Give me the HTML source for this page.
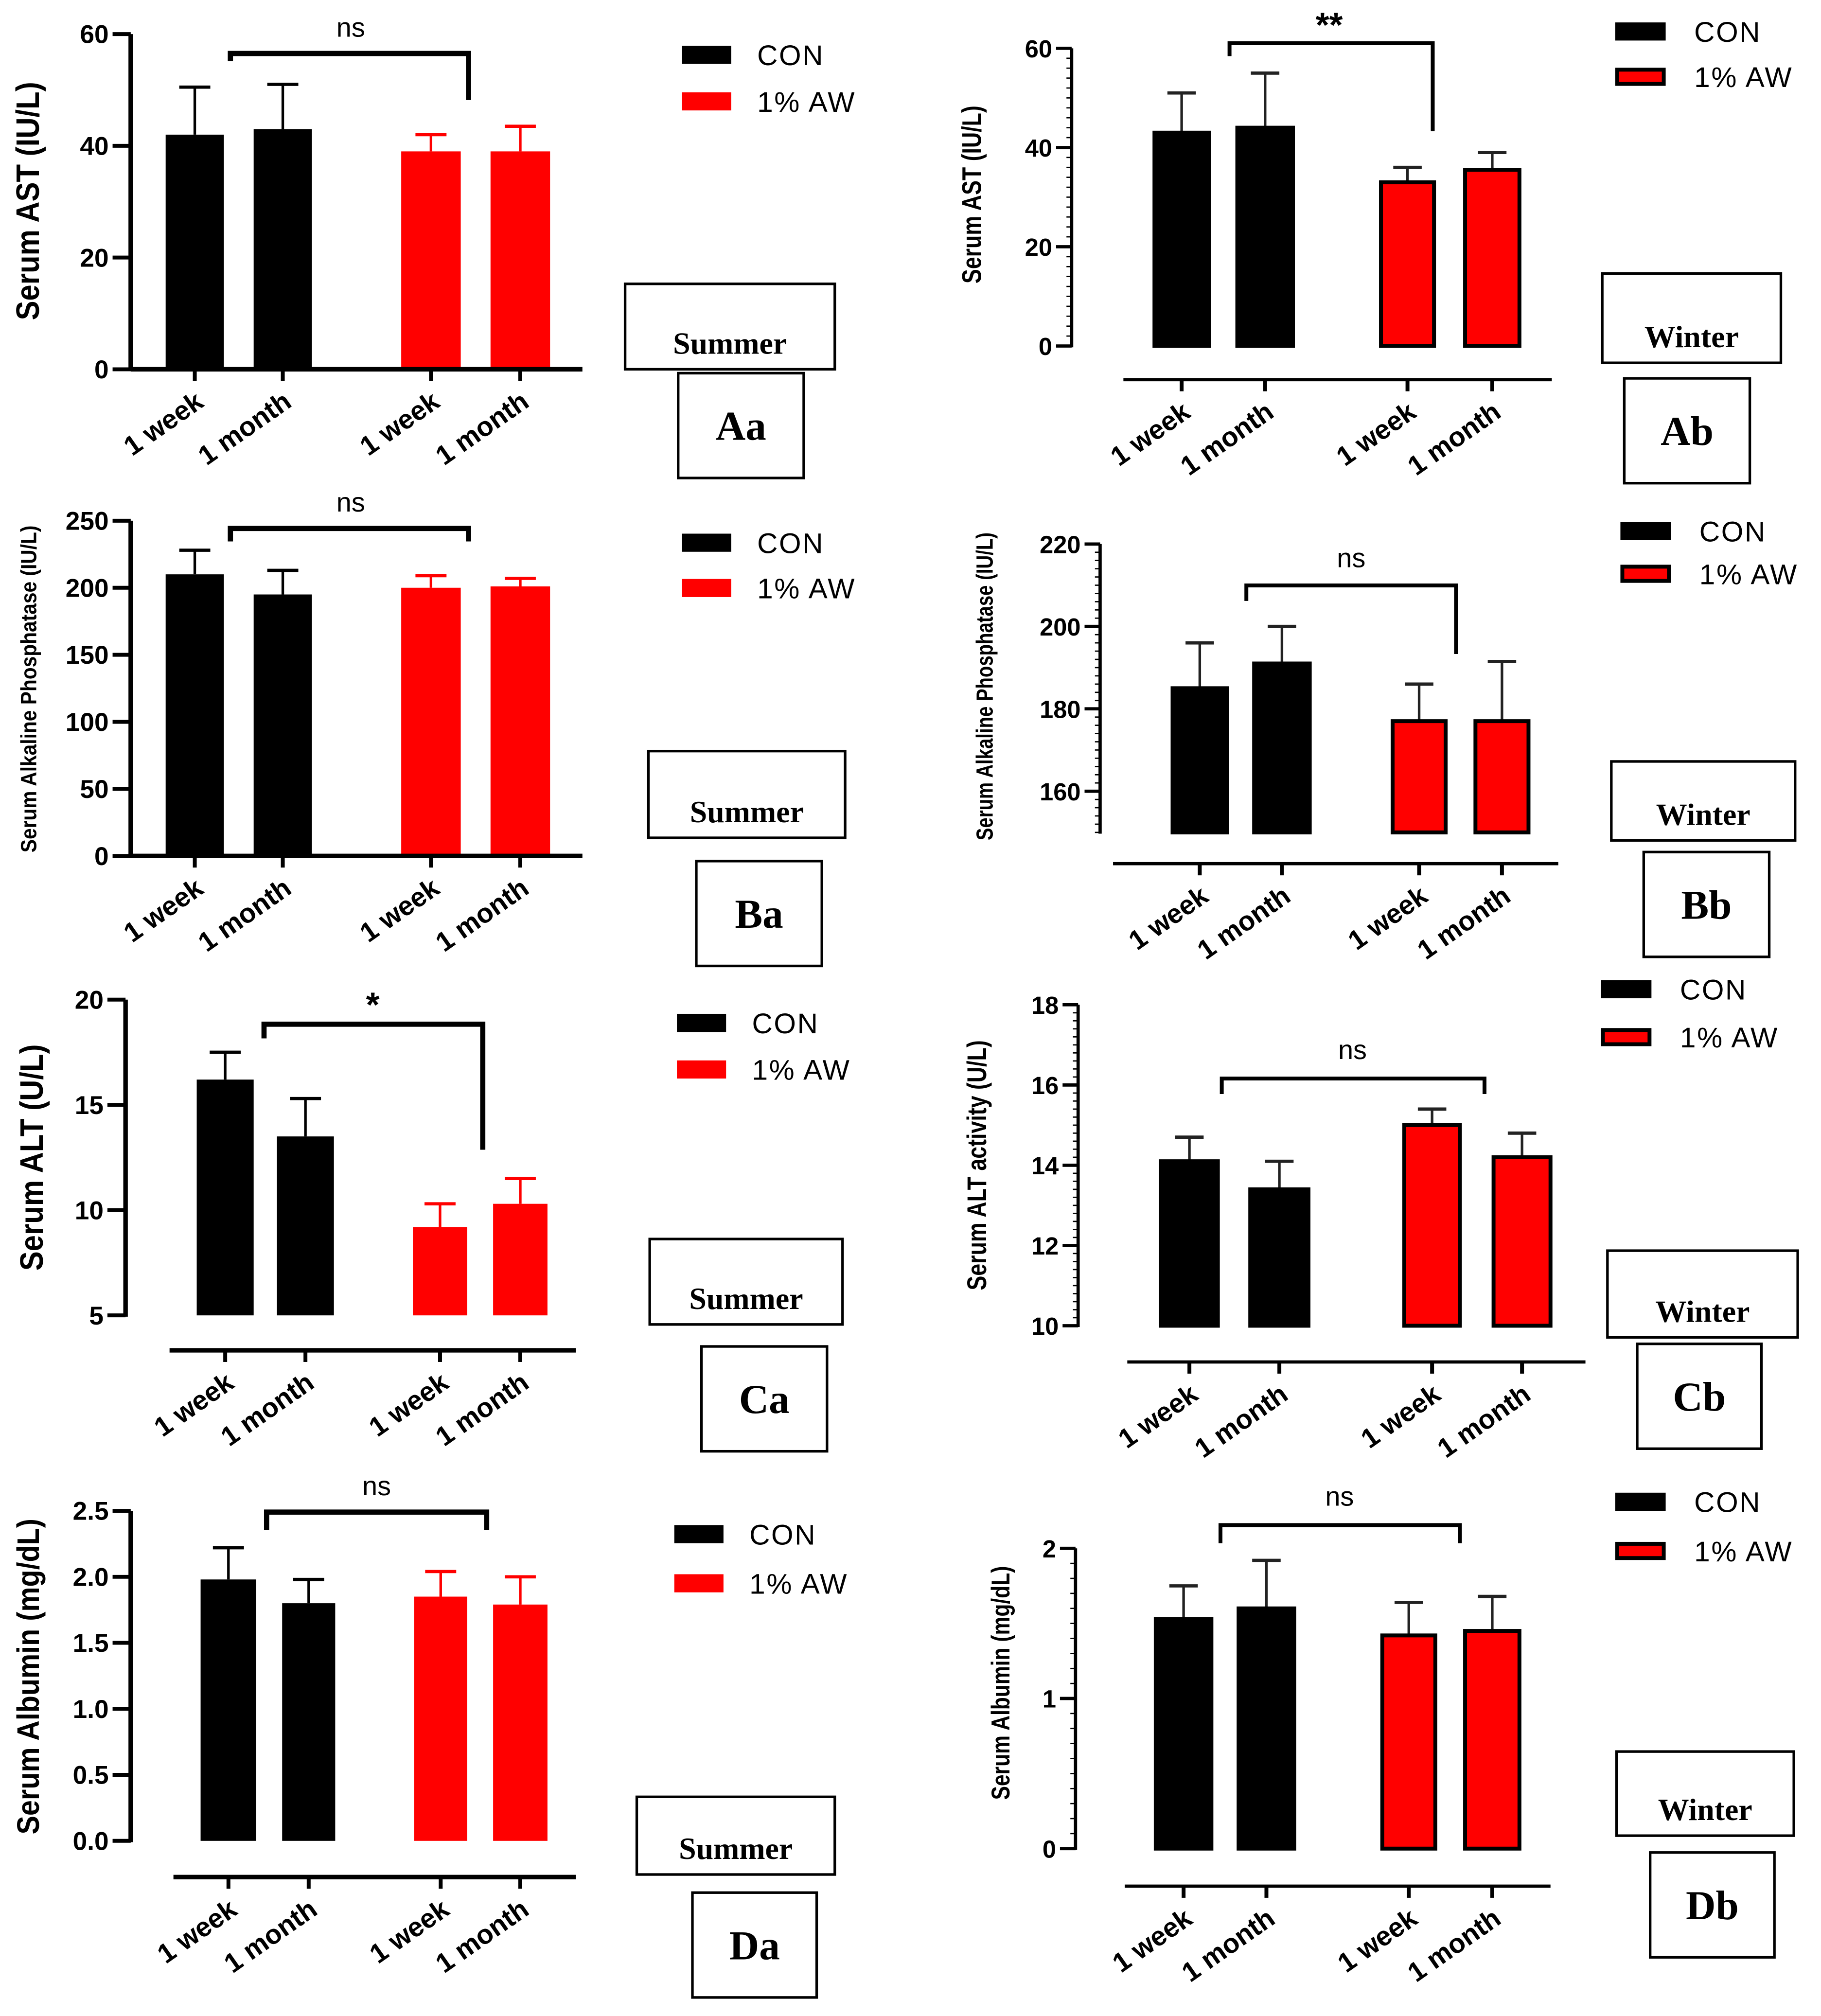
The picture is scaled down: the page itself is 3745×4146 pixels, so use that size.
<!DOCTYPE html>
<html><head><meta charset="utf-8"><style>
html,body{margin:0;padding:0;background:#fff}
svg{display:block}
</style></head><body>
<svg id="fig" width="3745" height="4146" viewBox="0 0 1407 1557" xmlns="http://www.w3.org/2000/svg" font-family="Liberation Sans, Arial, sans-serif"></svg>
<script>
const categories=['1 week','1 month','1 week','1 month'];
const groups=['CON','CON','1% AW','1% AW'];
const aaValues=[42,43,39,39];const aaErrors=[50.5,51,42,43.5];
const abValues=[43,44,33,35.5];const abErrors=[51,55,36,39];
const baValues=[210,195,200,201];const baErrors=[228,213,209,207];
const bbValues=[185,191,177,177];const bbErrors=[196,200,186,191.5];
const caValues=[16.2,13.5,9.2,10.3];const caErrors=[17.5,15.3,10.3,11.5];
const cbValues=[14.1,13.4,15,14.2];const cbErrors=[14.7,14.1,15.4,14.8];
const daValues=[1.98,1.80,1.85,1.79];const daErrors=[2.22,1.98,2.04,2.0];
const dbValues=[1.53,1.6,1.42,1.45];const dbErrors=[1.75,1.92,1.64,1.68];
const aaTicks=[0,20,40,60];const abTicks=[0,20,40,60];
const baTicks=[0,50,100,150,200,250];const bbTicks=[160,180,200,220];
const caTicks=[5,10,15,20];const cbTicks=[10,12,14,16,18];
const daTicks=['0.0','0.5','1.0','1.5','2.0','2.5'];const dbTicks=[0,1,2];

const NS='http://www.w3.org/2000/svg';
const svg=document.getElementById('fig');
function el(tag,attrs,parent,txt){const e=document.createElementNS(NS,tag);for(const k in attrs)e.setAttribute(k,attrs[k]);if(txt!==undefined)e.textContent=txt;(parent||svg).appendChild(e);return e;}

const panels=[
{id:'aa',style:'L',join:true,values:aaValues,errors:aaErrors,ticks:aaTicks,ax:101,y0v:0,y1v:60,py0:285,py1:26,bottomV:0,xAxisY:285,xAxisX:[101,450],bars:[[128,173],[196,241],[310,356],[379,425]],
 br:{x1:178,x2:362,y:41,l:47,r:77,label:'ns',lx:271,ly:28},leg:[[42],[78]],legX:527,season:'Summer',sb:[483,219,162,66],lb:[524,288,97,81],label:'Aa',ylab:'Serum AST (IU/L)',ylx:30,yly:155,ylfs:25},
{id:'ab',style:'R',values:abValues,errors:abErrors,ticks:abTicks,ax:828,y0v:0,y1v:60,py0:267,py1:37,bottomV:0,xAxisY:293,xAxisX:[868,1199],bars:[[892,934],[956,999],[1067,1108],[1132,1174]],
 br:{x1:950,x2:1107,y:33,l:43,r:101,label:'**',lx:1027,ly:28},leg:[[24],[59]],legX:1248,season:'Winter',sb:[1238,211,138,69],lb:[1255,292,97,81],label:'Ab',ylab:'Serum AST (IU/L)',ylx:758,yly:150,ylfs:21},
{id:'ba',style:'L',join:true,values:baValues,errors:baErrors,ticks:baTicks,ax:101,y0v:0,y1v:250,py0:661,py1:402,bottomV:0,xAxisY:661,xAxisX:[101,450],bars:[[128,173],[196,241],[310,356],[379,425]],
 br:{x1:178,x2:362,y:408,l:418,r:418,label:'ns',lx:271,ly:395},leg:[[419],[454]],legX:527,season:'Summer',sb:[501,580,152,67],lb:[538,665,97,81],label:'Ba',ylab:'Serum Alkaline Phosphatase (IU/L)',ylx:28,yly:532,ylfs:17},
{id:'bb',style:'R',values:bbValues,errors:bbErrors,ticks:bbTicks,ax:850,y0v:160,y1v:220,py0:611,py1:420,bottomV:150,xAxisY:667,xAxisX:[860,1204],bars:[[906,948],[969,1012],[1076,1117],[1140,1181]],
 br:{x1:963,x2:1125,y:452,l:464,r:505,label:'ns',lx:1044,ly:438},leg:[[410],[443]],legX:1252,season:'Winter',sb:[1245,588,142,61],lb:[1270,658,97,81],label:'Bb',ylab:'Serum  Alkaline Phosphatase (IU/L)',ylx:767,yly:530,ylfs:18},
{id:'ca',style:'L',values:caValues,errors:caErrors,ticks:caTicks,ax:97,y0v:5,y1v:20,py0:1016,py1:772,bottomV:5,xAxisY:1043,xAxisX:[131,445],bars:[[152,196],[214,258],[319,361],[381,423]],
 br:{x1:204,x2:373,y:791,l:802,r:888,label:'*',lx:288,ly:785},leg:[[790],[826]],legX:523,season:'Summer',sb:[502,957,149,66],lb:[542,1040,97,81],label:'Ca',ylab:'Serum ALT (U/L)',ylx:33,yly:894,ylfs:25},
{id:'cb',style:'R',values:cbValues,errors:cbErrors,ticks:cbTicks,ax:833,y0v:10,y1v:18,py0:1024,py1:776,bottomV:10,xAxisY:1052,xAxisX:[871,1225],bars:[[897,941],[966,1011],[1085,1128],[1154,1198]],
 br:{x1:944,x2:1147,y:833,l:845,r:845,label:'ns',lx:1045,ly:818},leg:[[764],[801]],legX:1237,season:'Winter',sb:[1242,966,147,67],lb:[1265,1038,96,81],label:'Cb',ylab:'Serum  ALT activity (U/L)',ylx:762,yly:900,ylfs:21},
{id:'da',style:'L',values:daValues,errors:daErrors,ticks:daTicks,ax:101,y0v:0,y1v:2.5,py0:1422,py1:1167,bottomV:0,xAxisY:1450,xAxisX:[134,445],bars:[[155,198],[218,259],[320,361],[381,423]],
 br:{x1:206,x2:376,y:1168,l:1182,r:1182,label:'ns',lx:291,ly:1155},leg:[[1185],[1223]],legX:521,season:'Summer',sb:[492,1388,153,60],lb:[535,1462,96,81],label:'Da',ylab:'Serum Albumin (mg/dL)',ylx:30,yly:1295,ylfs:24},
{id:'db',style:'R',values:dbValues,errors:dbErrors,ticks:dbTicks,ax:831,y0v:0,y1v:2,py0:1428,py1:1196,bottomV:0,xAxisY:1457,xAxisX:[869,1198],bars:[[893,936],[957,1000],[1068,1109],[1132,1174]],
 br:{x1:943,x2:1128,y:1178,l:1192,r:1192,label:'ns',lx:1035,ly:1163},leg:[[1160],[1198]],legX:1248,season:'Winter',sb:[1249,1353,137,65],lb:[1275,1431,96,81],label:'Db',ylab:'Serum  Albumin (mg/dL)',ylx:780,yly:1300,ylfs:20}
];
const SERIF='font-family:"Liberation Serif",serif';

panels.forEach(p=>{
  const g=el('g',{});
  
  
  const yS=v=>p.py0+(parseFloat(v)-p.y0v)*(p.py1-p.py0)/(p.y1v-p.y0v);
  const R=p.style==='R';
  const axTop=yS(p.ticks[p.ticks.length-1]);
  const axBot=p.join?p.xAxisY+1.5:yS(p.bottomV)+1;
  const ya=el('line',{x1:p.ax,y1:axTop,x2:p.ax,y2:axBot,stroke:'#000','stroke-width':R?2.5:3.5},g);
  
  
  if(R){
    const step=(p.ticks[1]-p.ticks[0])/10;
    for(let v=p.bottomV;v<=parseFloat(p.ticks[p.ticks.length-1])+1e-9;v+=step){
      el('line',{x1:p.ax-4,y1:yS(v),x2:p.ax,y2:yS(v),stroke:'#000','stroke-width':1},g);
    }
  }
  p.ticks.forEach(t=>{
    const y=yS(t);
    el('line',{x1:p.ax-(R?12:14),y1:y,x2:p.ax,y2:y,stroke:'#000','stroke-width':R?2.5:3},g);
    const tl=el('text',{x:p.ax-(R?15:17),y:y+7,'text-anchor':'end','font-size':R?19:20,'font-weight':'bold'},g,String(t));
    
    
  });
  const yl=el('text',{x:0,y:0,'text-anchor':'middle','font-size':p.ylfs,'font-weight':'bold',transform:`translate(${p.ylx},${p.yly}) rotate(-90) scale(${R?0.8:0.9},1)`},g,p.ylab);
  
  
  p.values.forEach((v,i)=>{
    const [x1,x2]=p.bars[i];const red=i>=2;
    const top=yS(v),bot=yS(p.bottomV);const cx=(x1+x2)/2;
    const col=R?'#222':(red?'#f00':'#000');
    const eb=el('line',{x1:cx,y1:top,x2:cx,y2:yS(p.errors[i]),stroke:col,'stroke-width':2},g);
    
    
    el('line',{x1:cx-(R?11:12),y1:yS(p.errors[i]),x2:cx+(R?11:12),y2:yS(p.errors[i]),stroke:col,'stroke-width':2.5},g);
    const b=el('rect',{x:x1,y:top,width:x2-x1,height:bot-top,fill:red?'#ff0000':'#000',stroke:R?'#000':'none','stroke-width':R?3:0},g);
    
    
  });
  const xa=el('line',{x1:p.xAxisX[0],y1:p.xAxisY,x2:p.xAxisX[1],y2:p.xAxisY,stroke:'#000','stroke-width':R?2.5:3.5},g);
  
  
  categories.forEach((c,i)=>{
    const cx=(p.bars[i][0]+p.bars[i][1])/2;
    el('line',{x1:cx,y1:p.xAxisY,x2:cx,y2:p.xAxisY+9,stroke:'#000','stroke-width':3},g);
    const t=el('text',{x:0,y:0,'text-anchor':'end','font-size':21,'font-weight':'bold',transform:`translate(${cx+8},${p.xAxisY+28}) rotate(-35)`},g,c);
    
    
  });
  const b=p.br;
  const bp=el('path',{d:`M${b.x1},${b.l} L${b.x1},${b.y} L${b.x2},${b.y} L${b.x2},${b.r}`,fill:'none',stroke:'#000','stroke-width':R?3:4},g);
  
  
  const st=el('text',{x:b.lx,y:b.ly,'text-anchor':'middle','font-size':b.label==='ns'?21:27,'font-weight':b.label==='ns'?'normal':'bold'},g,b.label);
  
  
  ['CON','1% AW'].forEach((n,i)=>{
    const y=p.leg[i][0];
    const r=el('rect',{x:p.legX+(R?1.5:0),y:y-7+(R?1.5:0),width:R?36:38,height:R?11:14,fill:i?'#ff0000':'#000',stroke:R?'#000':'none','stroke-width':R?3:0},g);
    
    
    const t=el('text',{x:p.legX+(R?61:58),y:y+8,'font-size':22,'letter-spacing':'1'},g,n);
    
    
  });
  const s=p.sb;
  const sr=el('rect',{x:s[0],y:s[1],width:s[2],height:s[3],fill:'#fff',stroke:'#000','stroke-width':2},g);
  
  
  const stx=el('text',{x:s[0]+s[2]/2,y:s[1]+s[3]-12,'text-anchor':'middle','font-size':24,'font-weight':'bold',style:SERIF},g,p.season);
  
  
  const l=p.lb;
  const lr=el('rect',{x:l[0],y:l[1],width:l[2],height:l[3],fill:'#fff',stroke:'#000','stroke-width':2},g);
  
  
  const ltx=el('text',{x:l[0]+l[2]/2,y:l[1]+l[3]/2+11,'text-anchor':'middle','font-size':32,'font-weight':'bold',style:SERIF},g,p.label);
  
  
});
</script>
</body></html>
